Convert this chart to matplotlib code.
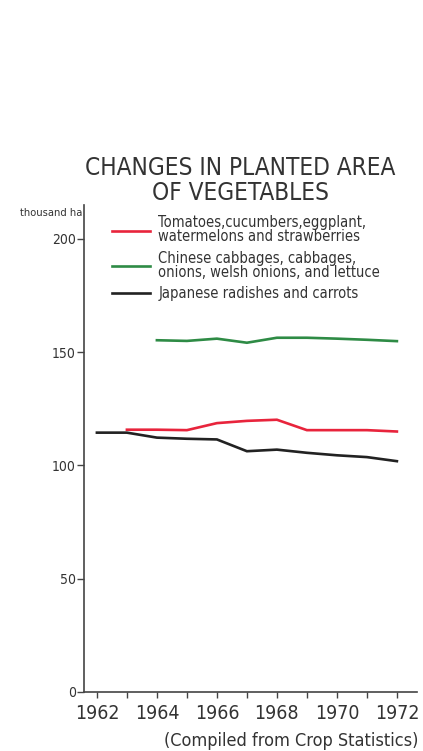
import matplotlib
matplotlib.use('Agg')
import matplotlib.pyplot as plt

# data (thousand ha)
years = list(range(1962, 1973))
fruit_veg = [None, 115.8, 115.8, 115.6, 118.7, 119.7, 120.2, 115.6, 115.6, 115.6, 115.0]
leaf_veg = [None, None, 155.3, 155.0, 156.0, 154.2, 156.4, 156.4, 156.0, 155.5, 154.9]
root_veg = [114.5, 114.5, 112.3, 111.8, 111.5, 106.3, 107.0, 105.6, 104.5, 103.7, 101.9]

labels = ['Tomatoes,cucumbers,eggplant,\nwatermelons and strawberries',
          'Chinese cabbages, cabbages,\nonions, welsh onions, and lettuce',
          'Japanese radishes and carrots']
colors = ['#e8243c', '#2e8b45', '#222222']
y_ticks = [0, 50, 100, 150, 200]
x_labels = [1962, 1964, 1966, 1968, 1970, 1972]

plt.rcParams['font.family'] = ['DejaVu Sans']
plt.rcParams['font.stretch'] = 'condensed'

fig = plt.figure(figsize=(4.23, 7.51), dpi=100)
ax = fig.add_axes([0.1986, 0.0786, 0.7872, 0.6484])

series = [fruit_veg, leaf_veg, root_veg]
handles = []
for vals, col, lab in zip(series, colors, labels):
    xs = [y for y, v in zip(years, vals) if v is not None]
    ys = [v for v in vals if v is not None]
    h, = ax.plot(xs, ys, color=col, lw=1.9, label=lab, solid_joinstyle='miter')
    handles.append(h)

ax.set_xlim(1961.57, 1972.67)
ax.set_ylim(0, 215)

for s in ['top', 'right']:
    ax.spines[s].set_visible(False)
for s in ['left', 'bottom']:
    ax.spines[s].set_color('#444444')
    ax.spines[s].set_linewidth(1.2)

ax.set_yticks(y_ticks)
ax.set_yticklabels([str(t) for t in y_ticks], fontsize=10, color='#333333')
ax.set_xticks(years)
ax.set_xticklabels([str(y) if y in x_labels else '' for y in years], fontsize=14, color='#333333')
ax.tick_params(axis='y', length=5, width=1, color='#444444', pad=1)
ax.tick_params(axis='x', length=4, width=1, color='#444444', pad=5)

fig.text(0.047, 0.716, 'thousand ha', fontsize=8, color='#333333', va='center')

fig.text(0.568, 0.760, 'CHANGES IN PLANTED AREA\nOF VEGETABLES', fontsize=17.5,
         ha='center', va='center', color='#333333', linespacing=1.05)

leg = ax.legend(handles=handles, loc='upper left', bbox_to_anchor=(0.250, 0.721),
                bbox_transform=fig.transFigure, frameon=False, fontsize=10.5,
                handlelength=2.6, handletextpad=0.6, labelspacing=0.45,
                borderaxespad=0)
for t in leg.get_texts():
    t.set_color('#333333')
    t.set_linespacing(0.9)

fig.text(0.988, 0.001, '(Compiled from Crop Statistics)', fontsize=13,
         ha='right', va='bottom', color='#333333')

fig.savefig('out.png', dpi=100, facecolor='white')
